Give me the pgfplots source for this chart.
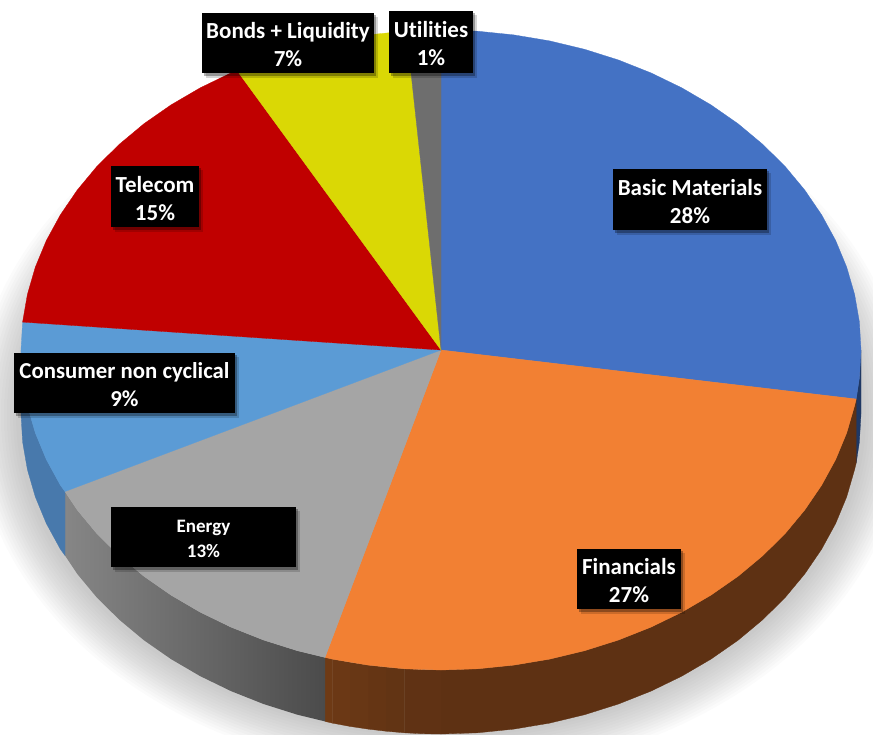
\documentclass[border=0pt]{standalone}
\usepackage{fontspec}
\setmainfont{Carlito}[Ligatures=NoCommon]
\usepackage{pgfplots}
\pgfplotsset{compat=1.18}

\definecolor{cbasic}{HTML}{4472C4}
\definecolor{cfin}{HTML}{F28033}
\definecolor{cenergy}{HTML}{A5A5A5}
\definecolor{ccons}{HTML}{5B9BD5}
\definecolor{ctel}{HTML}{C00000}
\definecolor{cbond}{HTML}{DAD805}
\definecolor{cutil}{HTML}{6E6E6E}
\definecolor{cnavy}{HTML}{1F3864}
\definecolor{cbrown}{HTML}{5E3113}
\definecolor{cblueside}{HTML}{4879AC}
\definecolor{cgreyl}{HTML}{868686}
\definecolor{cgreyr}{HTML}{4B4B4B}
\definecolor{b1}{HTML}{603214}
\definecolor{b2}{HTML}{623414}
\definecolor{b3}{HTML}{653514}
\definecolor{b4}{HTML}{683715}
\definecolor{b5}{HTML}{6B3815}
\definecolor{b6}{HTML}{6E3A15}

% black data label: font size, line distance, box corners, two lines of text
\newcommand{\lab}[8]{%
  \fill[black,opacity=.16] (axis cs:#3+4,#4+4) rectangle (axis cs:#5+4,#6+5);
  \fill[black,opacity=.30] (axis cs:#3+2,#4+2) rectangle (axis cs:#5+2,#6+3);
  \fill[black] (axis cs:#3,#4) rectangle (axis cs:#5,#6);
  \node[text=white,align=center,font=\fontsize{#1}{#2}\selectfont\bfseries,inner sep=0pt]
    at (axis cs:{(#3+#5)/2},{(#4+#6)/2+2}) {#7\\#8};
}

\begin{document}
\begin{tikzpicture}
\useasboundingbox (0,0) rectangle (873pt,734pt);
\begin{axis}[
    scale only axis,
    width=873pt,
    height=734pt,
    xmin=0, xmax=873,
    ymin=0, ymax=734,
    y dir=reverse,
    hide axis,
]
% soft shadow under the pie
\pgfplotsinvokeforeach{0,...,14}{
  \fill[black,opacity=.017] (axis cs:441,415) ellipse [x radius={467-3*#1}, y radius={361-2.8*#1}];
}

% side walls
\addplot[fill=cnavy,draw=cnavy,line width=.3pt] coordinates {
  (861,350)(859.4,377.9)(856.2,399)(856.2,463)(859.4,441.9)(861,414)} --cycle;
\addplot[fill=cbrown,draw=cbrown,line width=.3pt] coordinates {
  (441,670)(477.6,668.8)(513.9,665.1)(549.7,659.1)(584.6,650.7)(618.5,640)
  (651,627.1)(681.9,612.1)(711,595.1)(738,576.3)(762.7,555.7)(785.1,533.6)(804.7,510)
  (821.6,485.2)(835.7,459.4)(846.7,432.8)(854.6,405.6)(856.2,399)
  (856.2,463)(854.6,469.6)(846.7,496.8)(835.7,523.4)(821.6,549.2)(804.7,574)(785.1,597.6)
  (762.7,619.7)(738,640.3)(711,659.1)(681.9,676.1)(651,691.1)(618.5,704)(584.6,714.7)
  (549.7,723.1)(513.9,729.1)(477.6,732.8)(441,734)} --cycle;
\addplot[fill=b1,draw=b1,line width=.3pt] coordinates {(422,669.7)(441,670)(441,734)(422,733.7)} --cycle;
\addplot[fill=b1,draw=b1,line width=.3pt] coordinates {(404.4,668.8)(422,669.7)(422,733.7)(404.4,732.8)} --cycle;
\addplot[fill=b2,draw=b2,line width=.3pt] coordinates {(386,667.2)(404.4,668.8)(404.4,732.8)(386,731.2)} --cycle;
\addplot[fill=b3,draw=b3,line width=.3pt] coordinates {(368.1,665.1)(386,667.2)(386,731.2)(368.1,729.1)} --cycle;
\addplot[fill=b4,draw=b4,line width=.3pt] coordinates {(350,662.4)(368.1,665.1)(368.1,729.1)(350,726.4)} --cycle;
\addplot[fill=b5,draw=b5,line width=.3pt] coordinates {(332.3,659.1)(350,662.4)(350,726.4)(332.3,723.1)} --cycle;
\addplot[fill=b6,draw=b6,line width=.3pt] coordinates {(325,657.4)(332.3,659.1)(332.3,723.1)(325,721.4)} --cycle;
\addplot[left color=cgreyl,right color=cgreyr,draw=none] coordinates {
  (65,491.5)(77.3,510)(96.9,533.6)(119.3,555.7)(144,576.3)(171,595.1)(200.1,612.1)(231,627.1)
  (263.5,640)(297.4,650.7)(325,657.4)(325,721.4)(297.4,714.7)(263.5,704)(231,691.1)(200.1,676.1)
  (171,659.1)(144,640.3)(119.3,619.7)(96.9,597.6)(77.3,574)(65,555.5)} --cycle;
\addplot[fill=cblueside,draw=cblueside,line width=.3pt] coordinates {
  (21,350)(22.6,377.9)(27.4,405.6)(35.3,432.8)(46.3,459.4)(60.4,485.2)(65,491.5)
  (65,555.5)(60.4,549.2)(46.3,523.4)(35.3,496.8)(27.4,469.6)(22.6,441.9)(21,414)} --cycle;

% top face: Basic Materials, Financials, Energy, Consumer, Telecom, Bonds, Utilities
\addplot[fill=cbasic,draw=cbasic,line width=.3pt] coordinates {
  (441,350)(441,30)(477.6,31.2)(513.9,34.9)(549.7,40.9)(584.6,49.3)(618.5,60)(651,72.9)
  (681.9,87.9)(711,104.9)(738,123.7)(762.7,144.3)(785.1,166.4)(804.7,190)(821.6,214.8)
  (835.7,240.6)(846.7,267.2)(854.6,294.4)(859.4,322.1)(861,350)(859.4,377.9)(856.2,399)} --cycle;
\addplot[fill=cfin,draw=cfin,line width=.3pt] coordinates {
  (441,350)(856.2,399)(854.6,405.6)(846.7,432.8)(835.7,459.4)(821.6,485.2)(804.7,510)
  (785.1,533.6)(762.7,555.7)(738,576.3)(711,595.1)(681.9,612.1)(651,627.1)(618.5,640)
  (584.6,650.7)(549.7,659.1)(513.9,665.1)(477.6,668.8)(441,670)(404.4,668.8)(368.1,665.1)
  (332.3,659.1)(325,657.4)} --cycle;
\addplot[fill=cenergy,draw=cenergy,line width=.3pt] coordinates {
  (441,350)(325,657.4)(297.4,650.7)(263.5,640)(231,627.1)(200.1,612.1)(171,595.1)(144,576.3)
  (119.3,555.7)(96.9,533.6)(77.3,510)(65,491.5)} --cycle;
\addplot[fill=ccons,draw=ccons,line width=.3pt] coordinates {
  (441,350)(65,491.5)(60.4,485.2)(46.3,459.4)(35.3,432.8)(27.4,405.6)(22.6,377.9)(21,350)
  (22.6,322.1)} --cycle;
\addplot[fill=ctel,draw=ctel,line width=.3pt] coordinates {
  (441,350)(22.6,322.1)(27.4,294.4)(35.3,267.2)(46.3,240.6)(60.4,214.8)(77.3,190)(96.9,166.4)
  (119.3,144.3)(144,123.7)(171,104.9)(200.1,87.9)(231,72.9)(237,70.5)} --cycle;
\addplot[fill=cbond,draw=cbond,line width=.3pt] coordinates {
  (441,350)(237,70.5)(263.5,60)(297.4,49.3)(332.3,40.9)(368.1,34.9)(404.4,31.2)(406.5,31.1)} --cycle;
\addplot[fill=cutil,draw=cutil,line width=.3pt] coordinates {
  (441,350)(406.5,31.1)(423,30.3)(441,30)} --cycle;

% labels
\lab{23}{28}{613}{169}{767}{230}{Basic Materials}{28\%}
\lab{23}{28}{577}{549}{681}{609}{Financials}{27\%}
\lab{19}{25}{111}{507}{296}{567}{Energy}{13\%}
\lab{22.8}{28}{14}{353}{235}{413}{Consumer non cyclical}{9\%}
\lab{23}{28}{111}{166}{199}{227}{Telecom}{15\%}
\lab{23}{28}{202}{13}{374}{73}{Bonds + Liquidity}{7\%}
\lab{23}{28}{389}{11}{473}{73}{Utilities}{1\%}
\end{axis}
\end{tikzpicture}
\end{document}
